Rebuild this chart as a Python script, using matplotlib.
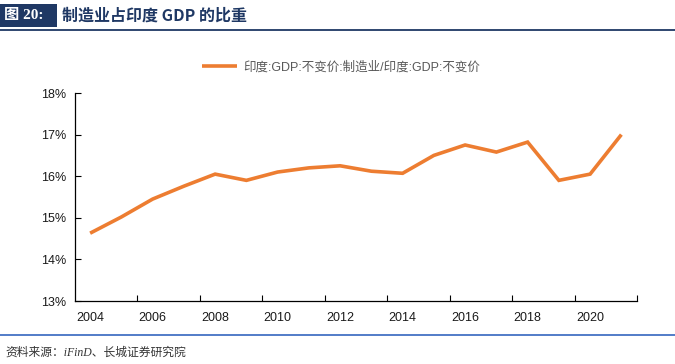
import matplotlib
matplotlib.use("Agg")
import matplotlib.pyplot as plt
from matplotlib.patches import Rectangle
from matplotlib.lines import Line2D

years = list(range(2004, 2022))
share = [14.63, 15.02, 15.45, 15.76, 16.05, 15.9, 16.1, 16.2, 16.25, 16.12,
         16.07, 16.5, 16.75, 16.58, 16.82, 15.9, 16.05, 17.0]
yticks = [13, 14, 15, 16, 17, 18]
series_name = "印度:GDP:不变价:制造业/印度:GDP:不变价"
title_tag = "图 20:"
title_text = "制造业占印度 GDP 的比重"
source_text = "资料来源：iFinD、长城证券研究院"

plt.rcParams['font.family'] = ['Liberation Sans', 'Noto Sans CJK SC', 'DejaVu Sans']
mixed = ['Liberation Sans', 'Noto Sans CJK SC', 'DejaVu Sans']
cjk = ['Noto Sans CJK SC', 'DejaVu Sans']

W, H = 675, 364
fig = plt.figure(figsize=(W / 100, H / 100), dpi=100)

ax = fig.add_axes([74.5 / W, 1 - 301 / H, (637 - 74.5) / W, (301 - 93) / H])
x = list(range(len(years)))
line, = ax.plot(x, share, color='#ED7D31', lw=2.6, solid_joinstyle='miter',
                solid_capstyle='butt', label=series_name)
ax.set_xlim(-0.5, len(years) - 0.5)
ax.set_ylim(13, 18)
ax.set_yticks(yticks)
ax.set_yticklabels([f"{v}%" for v in yticks])
# tick marks at category boundaries every 2 years, labels at every other category center
ax.set_xticks([i + 1.5 for i in range(0, len(years) - 1, 2)])
ax.set_xticklabels([])
ax.set_xticks(x[::2], minor=True)
ax.set_xticklabels([str(years[i]) for i in x[::2]], minor=True)
ax.tick_params(axis='x', which='major', direction='in', length=4, width=0.8, color='black')
ax.tick_params(axis='x', which='minor', length=0, pad=8, labelsize=9, labelcolor='#1a1a1a')
ax.tick_params(axis='y', direction='in', length=4, width=0.8, labelsize=9, pad=6,
               labelcolor='#1a1a1a')
for s in ['top', 'right']:
    ax.spines[s].set_visible(False)
for s in ['left', 'bottom']:
    ax.spines[s].set_linewidth(0.9)
    ax.spines[s].set_color('black')

# legend
leg = fig.legend(handles=[line], labels=[series_name], loc='center',
                 bbox_to_anchor=(341 / W, 1 - 67 / H), frameon=False,
                 prop={'family': mixed, 'size': 9}, handlelength=2.8, handletextpad=0.45)
for t in leg.get_texts():
    t.set_color('#595959')

# header
fig.patches.append(Rectangle((0, 1 - 27 / H), 57 / W, 23 / H, transform=fig.transFigure,
                             facecolor='#1F3864', edgecolor='none'))
fig.text(4 / W, 1 - 15.5 / H, title_tag, color='white', fontsize=11, fontweight='bold',
         family=['Liberation Serif', 'Noto Sans CJK SC', 'DejaVu Sans'], va='center', ha='left')
fig.text(62 / W, 1 - 15.5 / H, title_text, color='#1F3864', fontsize=11.5, fontweight='bold',
         family=cjk, va='center', ha='left')
fig.lines.append(Line2D([0, 1], [1 - 29.5 / H, 1 - 29.5 / H], transform=fig.transFigure,
                        color='#1F3864', lw=1.3))
# footer
fig.lines.append(Line2D([0, 1], [1 - 334.5 / H, 1 - 334.5 / H], transform=fig.transFigure,
                        color='#4472C4', lw=1.3))
fig.text(5 / W, 1 - 353 / H, source_text, color='#333333', fontsize=8.5, style='italic',
         family=['Liberation Serif', 'Noto Sans CJK SC', 'DejaVu Sans'], va='center', ha='left')

fig.savefig('out.png', dpi=100)
